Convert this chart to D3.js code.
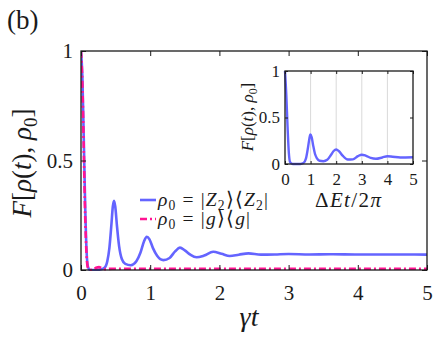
<!DOCTYPE html>
<html><head><meta charset="utf-8">
<script src="https://cdn.jsdelivr.net/npm/d3@7"></script>
<style>
html,body{margin:0;padding:0;background:#fff;}
svg{display:block;}
</style></head>
<body>
<svg id="c" width="436" height="341" font-family="Liberation Serif"></svg>
<script>
// ---- data ----
const xTicks = [0, 1, 2, 3, 4, 5];
const yTicks = [0, 0.5, 1];
const yTickLabels = ["0", "0.5", "1"];

// main panel, rho0 = |Z2><Z2|
const tZ2 = [0, 0.02, 0.04, 0.06, 0.08, 0.1, 0.13, 0.2, 0.28, 0.34, 0.38, 0.41, 0.44, 0.46, 0.477, 0.495, 0.52, 0.55, 0.59, 0.64, 0.72, 0.8, 0.86, 0.91, 0.95, 0.99, 1.04, 1.1, 1.19, 1.28, 1.36, 1.43, 1.5, 1.58, 1.67, 1.78, 1.91, 2.03, 2.15, 2.28, 2.42, 2.6, 2.8, 3.0, 3.3, 3.6, 4.0, 4.5, 5.0];
const fZ2 = [1, 0.88, 0.6, 0.3, 0.09, 0.015, 0, 0, 0.002, 0.01, 0.04, 0.1, 0.21, 0.29, 0.316, 0.29, 0.2, 0.11, 0.05, 0.028, 0.022, 0.04, 0.08, 0.13, 0.152, 0.14, 0.1, 0.065, 0.045, 0.055, 0.085, 0.102, 0.09, 0.07, 0.058, 0.066, 0.083, 0.074, 0.064, 0.07, 0.076, 0.07, 0.071, 0.073, 0.071, 0.072, 0.071, 0.071, 0.07];

// main panel, rho0 = |g><g|
const tG = [0, 0.02, 0.04, 0.06, 0.08, 0.1, 0.13, 0.18, 0.22, 0.26, 0.3, 0.35, 0.45, 0.6, 1, 2, 3, 4, 5];
const fG = [1, 0.85, 0.55, 0.25, 0.07, 0.01, 0, 0.002, 0.01, 0.013, 0.008, 0.004, 0.006, 0.006, 0.006, 0.006, 0.006, 0.006, 0.006];

// inset, x in units of ΔE t / 2π
const tIn = [0, 0.05, 0.1, 0.15, 0.2, 0.3, 0.6, 0.72, 0.82, 0.9, 0.95, 0.99, 1.04, 1.1, 1.17, 1.25, 1.35, 1.5, 1.65, 1.8, 1.9, 2.0, 2.1, 2.25, 2.45, 2.65, 2.85, 3.0, 3.15, 3.35, 3.55, 3.8, 4.0, 4.2, 4.5, 5];
const fIn = [1, 0.75, 0.4, 0.12, 0.02, 0, 0, 0.01, 0.06, 0.18, 0.27, 0.318, 0.29, 0.2, 0.11, 0.06, 0.035, 0.03, 0.045, 0.1, 0.14, 0.156, 0.14, 0.09, 0.048, 0.05, 0.085, 0.1, 0.09, 0.065, 0.056, 0.07, 0.083, 0.078, 0.07, 0.072];
const insetGrid = [1, 2, 3, 4];

const BLUE = "rgb(100,100,255)";
const PINK = "rgb(255,20,147)";
const FONT = "Liberation Serif";
const INK = "#1a1a1a";

// ---- helpers ----
const svg = d3.select("#c");

function mathText(sel, parts, size) {
  sel.attr("font-family", FONT).attr("fill", INK);
  let shifted = false;
  parts.forEach(([t, k]) => {
    const ts = sel.append("tspan").text(t);
    if (k === "i") ts.attr("font-style", "italic");
    if (k === "s") {
      ts.attr("font-size", size * 0.7).attr("dy", size * 0.22);
      shifted = true;
    } else if (shifted) {
      ts.attr("dy", -size * 0.22);
      shifted = false;
    }
  });
}

function zip(a, b) { return a.map((v, i) => [v, b[i]]); }

// ---- main panel ----
const x = d3.scaleLinear().domain([0, 5]).range([81, 427]);
const y = d3.scaleLinear().domain([0, 1]).range([270, 51]);

const main = svg.append("g");

const clipM = svg.append("clipPath").attr("id", "clipM");
clipM.append("rect").attr("x", 81).attr("y", 40).attr("width", 346).attr("height", 231);

const line = d3.line().x(d => x(d[0])).y(d => y(d[1])).curve(d3.curveMonotoneX);

main.append("path").datum(zip(tZ2, fZ2)).attr("d", line)
  .attr("fill", "none").attr("stroke", BLUE).attr("stroke-width", 2.6)
  .attr("stroke-linejoin", "round").attr("clip-path", "url(#clipM)");
main.append("path").datum(zip(tG, fG)).attr("d", line)
  .attr("fill", "none").attr("stroke", PINK).attr("stroke-width", 2.6)
  .attr("stroke-dasharray", "7,3,2,3").attr("clip-path", "url(#clipM)");

function styleAxis(g) {
  g.attr("font-family", FONT);
  g.select(".domain").remove();
  g.selectAll("line").attr("stroke", INK).attr("stroke-width", 1);
  g.selectAll("text").attr("fill", INK).attr("font-family", FONT);
}

main.append("g").attr("transform", `translate(0,${y(0)})`)
  .call(d3.axisBottom(x).tickValues(xTicks).tickFormat(d3.format("d")).tickSizeInner(-5).tickSizeOuter(0).tickPadding(15))
  .call(styleAxis).selectAll("text").attr("font-size", 21);
main.append("g").attr("transform", `translate(0,${y(1)})`)
  .call(d3.axisTop(x).tickValues(xTicks).tickFormat("").tickSizeInner(-5).tickSizeOuter(0))
  .call(styleAxis);
main.append("g").attr("transform", `translate(${x(0)},0)`)
  .call(d3.axisLeft(y).tickValues(yTicks).tickFormat((d, i) => yTickLabels[i]).tickSizeInner(-5).tickSizeOuter(0).tickPadding(8))
  .call(styleAxis).selectAll("text").attr("font-size", 21);
main.append("g").attr("transform", `translate(${x(5)},0)`)
  .call(d3.axisRight(y).tickValues(yTicks).tickFormat("").tickSizeInner(-5).tickSizeOuter(0))
  .call(styleAxis);

main.append("rect").attr("x", x(0)).attr("y", y(1)).attr("width", x(5) - x(0)).attr("height", y(0) - y(1))
  .attr("fill", "none").attr("stroke", INK).attr("stroke-width", 1.3);

// axis labels
const xl = main.append("text").attr("x", 249).attr("y", 326).attr("text-anchor", "middle").attr("font-size", 28);
mathText(xl, [["γt", "i"]], 28);

const yl = main.append("text").attr("transform", "translate(31,163) rotate(-90)").attr("text-anchor", "middle").attr("font-size", 27);
mathText(yl, [["F", "i"], ["[", "n"], ["ρ", "i"], ["(", "n"], ["t", "i"], ["), ", "n"], ["ρ", "i"], ["0", "s"], ["]", "n"]], 27);

const lb = svg.append("text").attr("x", 7).attr("y", 29).attr("font-size", 27);
mathText(lb, [["(b)", "n"]], 27);

// legend
const legend = [
  { y: 200, len: 110, color: BLUE, dash: null, parts: [["ρ", "i"], ["0", "s"], [" = |", "n"], ["Z", "i"], ["2", "s"], ["⟩⟨", "n"], ["Z", "i"], ["2", "s"], ["|", "n"]] },
  { y: 219, len: 92, color: PINK, dash: "7,3,2,3", parts: [["ρ", "i"], ["0", "s"], [" = |", "n"], ["g", "i"], ["⟩⟨", "n"], ["g", "i"], ["|", "n"]] }
];
legend.forEach(L => {
  const ln = main.append("line").attr("x1", 140).attr("x2", 156).attr("y1", L.y).attr("y2", L.y)
    .attr("stroke", L.color).attr("stroke-width", 2.6);
  if (L.dash) ln.attr("stroke-dasharray", L.dash);
  const t = main.append("text").attr("x", 158).attr("y", L.y + 6).attr("font-size", 19.5)
    .attr("textLength", L.len).attr("lengthAdjust", "spacing");
  mathText(t, L.parts, 19.5);
});

// ---- inset ----
const xi = d3.scaleLinear().domain([0, 5]).range([285, 413]);
const yi = d3.scaleLinear().domain([0, 1]).range([164, 71]);
const ins = svg.append("g");
ins.append("rect").attr("x", 285).attr("y", 71).attr("width", 128).attr("height", 93).attr("fill", "#fff");
ins.selectAll("line.grid").data(insetGrid).join("line").attr("class", "grid")
  .attr("x1", d => xi(d)).attr("x2", d => xi(d)).attr("y1", yi(0)).attr("y2", yi(1))
  .attr("stroke", "#d9d9d9").attr("stroke-width", 1);

const lineI = d3.line().x(d => xi(d[0])).y(d => yi(d[1])).curve(d3.curveMonotoneX);
ins.append("path").datum(zip(tIn, fIn)).attr("d", lineI)
  .attr("fill", "none").attr("stroke", BLUE).attr("stroke-width", 2.4).attr("stroke-linejoin", "round");

ins.append("g").attr("transform", `translate(0,${yi(0)})`)
  .call(d3.axisBottom(xi).tickValues(xTicks).tickFormat(d3.format("d")).tickSizeInner(-3).tickSizeOuter(0).tickPadding(9))
  .call(styleAxis).selectAll("text").attr("font-size", 17);
ins.append("g").attr("transform", `translate(0,${yi(1)})`)
  .call(d3.axisTop(xi).tickValues(xTicks).tickFormat("").tickSizeInner(-3).tickSizeOuter(0))
  .call(styleAxis);
ins.append("g").attr("transform", `translate(${xi(0)},0)`)
  .call(d3.axisLeft(yi).tickValues(yTicks).tickFormat((d, i) => yTickLabels[i]).tickSizeInner(-3).tickSizeOuter(0).tickPadding(5))
  .call(styleAxis).selectAll("text").attr("font-size", 17);
ins.append("g").attr("transform", `translate(${xi(5)},0)`)
  .call(d3.axisRight(yi).tickValues(yTicks).tickFormat("").tickSizeInner(-3).tickSizeOuter(0))
  .call(styleAxis);
ins.append("rect").attr("x", 285).attr("y", 71).attr("width", 128).attr("height", 93)
  .attr("fill", "none").attr("stroke", INK).attr("stroke-width", 1.3);

const xil = ins.append("text").attr("x", 348).attr("y", 207).attr("text-anchor", "middle").attr("font-size", 21)
  .attr("textLength", 66).attr("lengthAdjust", "spacing");
mathText(xil, [["Δ", "n"], ["Et", "i"], ["/2", "n"], ["π", "i"]], 21);
const yil = ins.append("text").attr("transform", "translate(253,117) rotate(-90)").attr("text-anchor", "middle").attr("font-size", 17);
mathText(yil, [["F", "i"], ["[", "n"], ["ρ", "i"], ["(", "n"], ["t", "i"], ["), ", "n"], ["ρ", "i"], ["0", "s"], ["]", "n"]], 17);
</script>
</body></html>
